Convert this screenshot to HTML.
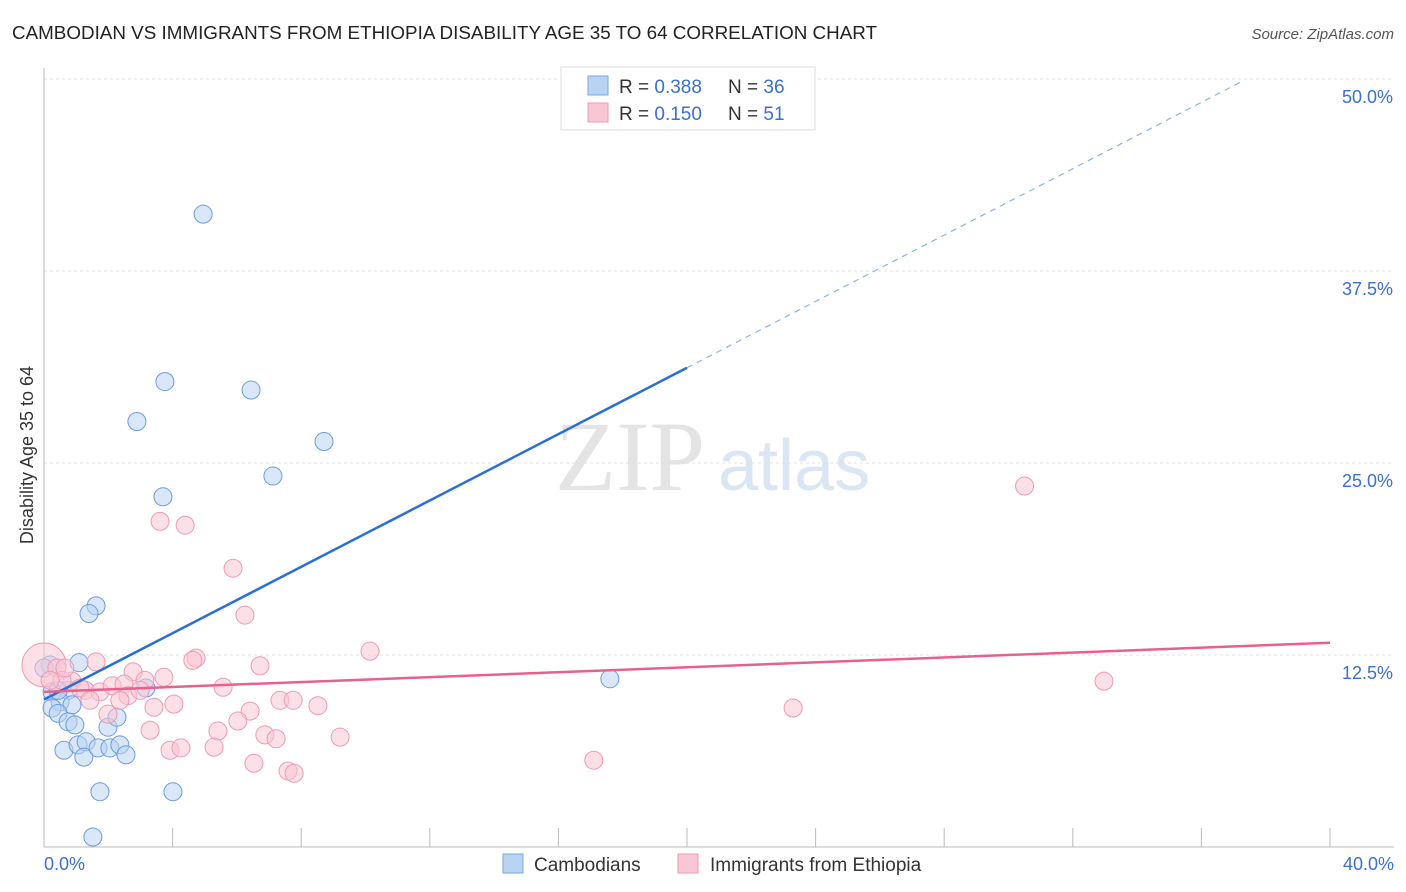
<!DOCTYPE html>
<html><head><meta charset="utf-8"><style>
body{margin:0;background:#fff;font-family:"Liberation Sans",sans-serif;}
#wrap{position:relative;width:1406px;height:892px;overflow:hidden;}
</style></head><body>
<div id="wrap">
<svg id="chart" width="1406" height="892" xmlns="http://www.w3.org/2000/svg">
<text x="12" y="39" font-size="18" fill="#222" textLength="865" lengthAdjust="spacingAndGlyphs">CAMBODIAN VS IMMIGRANTS FROM ETHIOPIA DISABILITY AGE 35 TO 64 CORRELATION CHART</text>
<text x="1394" y="39" font-size="15" fill="#555" font-style="italic" text-anchor="end">Source: ZipAtlas.com</text>
<text x="555" y="490" font-size="100" fill="#e4e4e4" font-family="Liberation Serif,serif">ZIP</text>
<text x="718" y="490" font-size="72" fill="#dbe6f5">atlas</text>
<text transform="translate(33,455) rotate(-90)" font-size="18" fill="#333" text-anchor="middle">Disability Age 35 to 64</text>
<g id="grid"></g><g id="marks"></g>
<g>
<rect x="561" y="67" width="254" height="63" fill="#fff" stroke="#ddd"/>
<rect x="588" y="76" width="20" height="19" fill="#b9d3f3" stroke="#7aa7e0"/>
<rect x="588" y="103" width="20" height="19" fill="#f9c6d4" stroke="#ee9ab3"/>
<text x="619" y="93" font-size="19" fill="#333">R = <tspan fill="#3b6fd0">0.388</tspan><tspan x="728">N = </tspan><tspan fill="#3b6fd0">36</tspan></text>
<text x="619" y="120" font-size="19" fill="#333">R = <tspan fill="#3b6fd0">0.150</tspan><tspan x="728">N = </tspan><tspan fill="#3b6fd0"> 51</tspan></text>
</g>
<g>
<rect x="503" y="854" width="20" height="19" fill="#b9d3f3" stroke="#7aa7e0"/>
<text x="534" y="871" font-size="19" fill="#333">Cambodians</text>
<rect x="678" y="854" width="20" height="19" fill="#f9c6d4" stroke="#ee9ab3"/>
<text x="710" y="871" font-size="19" fill="#333">Immigrants from Ethiopia</text>
</g>
</svg>
<script>
const blueX=[4.95,3.76,6.44,2.89,8.71,3.70,7.12,1.62,1.40,1.09,0.19,3.17,17.6,0.25,0.75,0.5,0.25,0.87,0.44,0.75,0.96,1.99,2.27,0.62,1.06,1.31,1.24,1.68,2.05,2.36,2.55,1.74,4.01,1.52,0,0.44];
const blueY=[41.2,30.3,29.75,27.7,26.4,22.8,24.15,15.7,15.2,12.0,11.85,10.35,10.95,10.1,10.2,9.45,9.05,9.25,8.7,8.15,7.95,7.8,8.45,6.3,6.65,6.85,5.85,6.45,6.45,6.65,6.0,3.6,3.6,0.65,11.65,10.2];
const pinkX=[0,3.61,4.39,5.88,6.25,30.5,10.14,32.97,23.3,17.1,4.73,4.63,6.72,1.62,2.77,3.73,0.4,0.87,1.28,1.74,2.12,2.49,3.14,5.57,7.34,7.75,8.52,6.41,3.42,4.04,1.99,2.61,2.99,6.03,3.30,5.41,6.87,7.22,9.21,3.92,4.26,5.29,6.53,7.59,7.78,0.56,1.12,0.19,2.36,0.65,1.43];
const pinkY=[11.85,21.2,20.95,18.15,15.1,23.5,12.75,10.8,9.05,5.65,12.3,12.15,11.8,12.05,11.4,11.05,11.65,10.8,10.2,10.1,10.5,10.6,10.85,10.4,9.55,9.55,9.2,8.85,9.1,9.3,8.65,9.85,10.2,8.2,7.6,7.55,7.3,7.05,7.15,6.3,6.45,6.5,5.45,4.95,4.8,10.85,10.35,10.85,9.55,11.65,9.55];
const yTicks=[12.5,25.0,37.5,50.0];
const xTickLabels=["0.0%","40.0%"];
const blueTrend=[9.6,31.2];
const pinkTrend=[10.1,13.3];
const NS="http://www.w3.org/2000/svg";
const X=v=>44+v*32.15, Y=v=>847-v*15.36;
function mk(t,a,p){const e=document.createElementNS(NS,t);for(const k in a)e.setAttribute(k,a[k]);p.appendChild(e);return e;}
const grid=document.getElementById('grid'),marks=document.getElementById('marks');
yTicks.forEach(t=>{
 const l=mk('line',{x1:44,x2:1394,y1:Y(t),y2:Y(t),stroke:'#e2e2e2','stroke-dasharray':'3,3'},grid);
 
 
 const tx=mk('text',{x:1393,y:Y(t)+24,'font-size':18,fill:'#3b6fd0','text-anchor':'end'},grid);
 tx.textContent=t.toFixed(1)+'%';
 
 
});
const ax=mk('line',{x1:44,x2:44,y1:68,y2:847,stroke:'#bbb'},grid);


const bx=mk('line',{x1:44,x2:1394,y1:847,y2:847,stroke:'#bbb'},grid);


for(let i=0;i<=10;i++){const t=mk('line',{x1:X(i*4),x2:X(i*4),y1:828,y2:847,stroke:'#bbb'},grid);
 
 }
xTickLabels.forEach((s,i)=>{const t=mk('text',{x:i?1394:44,y:870,'font-size':18,fill:'#3b6fd0','text-anchor':i?'end':'start'},grid);t.textContent=s;
 
 });
function pts(xs,ys,fill,stroke,name){xs.forEach((x,i)=>{const c=mk('circle',{cx:X(x),cy:Y(ys[i]),r:(name==='pink'&&i===0)?22:9,fill:fill,'fill-opacity':0.55,stroke:stroke,'stroke-width':1},marks);
 
 });}
pts(blueX,blueY,'#b9d3f3','#6a9de0','blue');
pts(pinkX,pinkY,'#f9c6d4','#ee9ab3','pink');
const slope=(blueTrend[1]-blueTrend[0])/20;
const b1=mk('line',{x1:X(0),y1:Y(blueTrend[0]),x2:X(20),y2:Y(blueTrend[1]),stroke:'#2a6fd6','stroke-width':2.5},marks);


const b2=mk('line',{x1:X(20),y1:Y(blueTrend[1]),x2:X(37.2),y2:Y(blueTrend[0]+slope*37.2),stroke:'#8fb2e8','stroke-width':1.2,'stroke-dasharray':'6,5'},marks);


const p1=mk('line',{x1:X(0),y1:Y(pinkTrend[0]),x2:X(40),y2:Y(pinkTrend[1]),stroke:'#e8608e','stroke-width':2.5},marks);


</script>
</div>
</body></html>
